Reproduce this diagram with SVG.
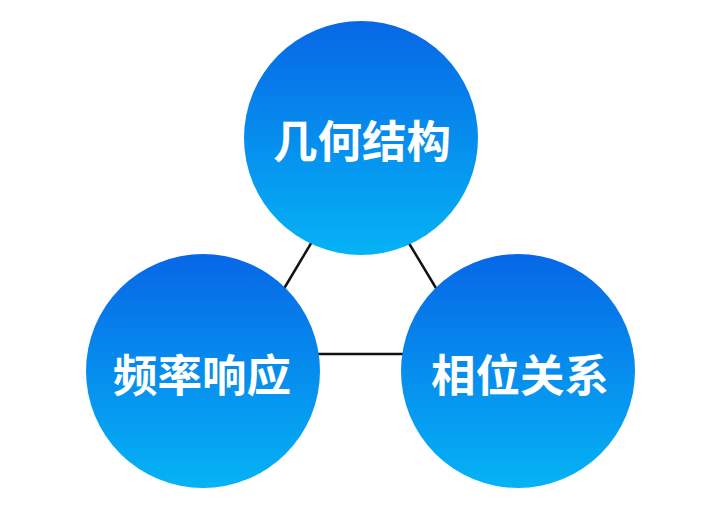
<svg xmlns="http://www.w3.org/2000/svg" width="720" height="512" viewBox="0 0 720 512">
<defs>
<linearGradient id="g" x1="0" y1="0" x2="0" y2="1">
<stop offset="0" stop-color="#0767e6"/>
<stop offset="1" stop-color="#05b3f5"/>
</linearGradient>
<style>
.c{fill:url(#g);}
.t{fill:#fff;font-family:"Noto Sans CJK SC","Noto Sans",sans-serif;font-weight:700;font-size:44.5px;text-anchor:middle;dominant-baseline:central;}
.l{stroke:#111;stroke-width:2.5;fill:none;}
</style>
</defs>
<rect width="720" height="512" fill="#fff"/>
<g id="connectors">
<line class="l" x1="316" y1="235" x2="279" y2="297"/>
<line class="l" x1="404" y1="235" x2="442" y2="298"/>
<line class="l" x1="310" y1="354" x2="412" y2="354"/>
</g>
<g id="node-top">
<circle class="c" cx="361" cy="138" r="117"/>
<text class="t" x="362" y="138">几何结构</text>
</g>
<g id="node-left">
<circle class="c" cx="203" cy="371" r="117"/>
<text class="t" x="202" y="372">频率响应</text>
</g>
<g id="node-right">
<circle class="c" cx="518" cy="371" r="117"/>
<text class="t" x="520" y="372">相位关系</text>
</g>
</svg>
